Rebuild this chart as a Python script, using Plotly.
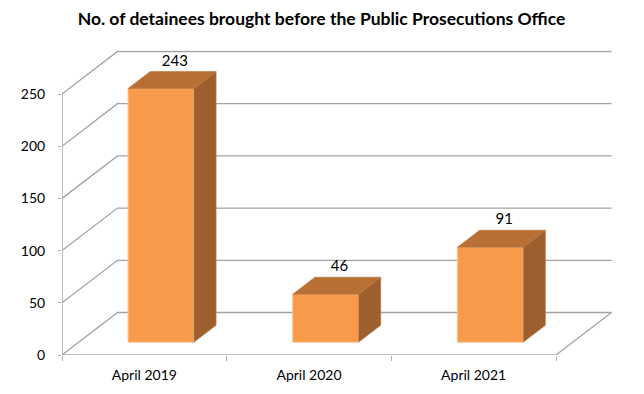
import plotly.graph_objects as go

categories = ["April 2019", "April 2020", "April 2021"]
values = [243, 46, 91]
y_ticks = [0, 50, 100, 150, 200, 250]
title = "No. of detainees brought before the Public Prosecutions Office"

FONT = "Lato"
X_MAX = 551 / 164.67
Y_MAX = 304.5 / 1.044
DX = 55.5 / 164.67   # depth projection in x units
DY = 42.5 / 1.044    # depth projection in y units
BAR_W = 0.4
D0, D1 = 0.30, 0.70
n = len(categories)
x_slots = list(range(n + 1))
centers = [i + 0.5 for i in range(n)]

# the page body has an 8px margin around the figure
PAGE = 8
W, H = 644 - PAGE, 394 - PAGE


def proj(x, y, d):
    return x + d * DX, y + d * DY


fig = go.Figure()

# walls and floor
grid_x, grid_y = [], []
for t in y_ticks:
    bx, by = proj(0, t, 1)
    ex, ey = proj(n, t, 1)
    grid_x += [0, bx, ex, None]
    grid_y += [t, by, ey, None]
fx, fy = proj(n, 0, 1)
fig.add_trace(go.Scatter(x=grid_x, y=grid_y, mode="lines", line=dict(color="#A3A3A3", width=1.3),
                         hoverinfo="skip", showlegend=False, cliponaxis=False))
fig.add_trace(go.Scatter(x=[0, 0, None, 0, n, fx], y=[0, y_ticks[-1], None, 0, 0, fy], mode="lines",
                         line=dict(color="#ABABAB", width=1.5), hoverinfo="skip", showlegend=False,
                         cliponaxis=False))

# front faces
bar_x = [c + D0 * DX for c in centers]
fig.add_trace(go.Bar(x=bar_x, y=values, base=[D0 * DY] * n, width=BAR_W,
                     marker=dict(color="#F99A4A", line=dict(color="#FBC597", width=1)),
                     xaxis="x2", yaxis="y2", hoverinfo="skip", showlegend=False))

# top and side faces
top_x, top_y, side_x, side_y, lab_x, lab_y = [], [], [], [], [], []
for c, v in zip(centers, values):
    l, r = c - BAR_W / 2, c + BAR_W / 2
    corners_top = [proj(l, v, D0), proj(r, v, D0), proj(r, v, D1), proj(l, v, D1), proj(l, v, D0)]
    corners_side = [proj(r, 0, D0), proj(r, 0, D1), proj(r, v, D1), proj(r, v, D0), proj(r, 0, D0)]
    for p in corners_top:
        top_x.append(p[0]); top_y.append(p[1])
    top_x.append(None); top_y.append(None)
    for p in corners_side:
        side_x.append(p[0]); side_y.append(p[1])
    side_x.append(None); side_y.append(None)
    lab_x.append(proj(c, v, 0.55)[0])
    lab_y.append(proj(c, v, D1)[1] + 2)

fig.add_trace(go.Scatter(x=side_x, y=side_y, mode="lines", fill="toself", fillcolor="#9C5F2D",
                         line=dict(color="#B98A60", width=0.6), xaxis="x2", yaxis="y2",
                         hoverinfo="skip", showlegend=False))
fig.add_trace(go.Scatter(x=top_x, y=top_y, mode="lines", fill="toself", fillcolor="#B97035",
                         line=dict(color="#B97035", width=0.6), xaxis="x2", yaxis="y2",
                         hoverinfo="skip", showlegend=False))
fig.add_trace(go.Scatter(x=lab_x, y=lab_y, mode="text", text=[str(v) for v in values],
                         textposition="top center", textfont=dict(family=FONT, size=15, color="#000000"),
                         xaxis="x2", yaxis="y2", hoverinfo="skip", showlegend=False, cliponaxis=False))

DOM_X = [(62 - PAGE) / W, (613 - PAGE) / W]
DOM_Y = [1 - (355 - PAGE) / H, 1 - (50.5 - PAGE) / H]
fig.update_layout(
    template="none",
    width=W, height=H, margin=dict(l=0, r=0, t=0, b=0, autoexpand=False),
    paper_bgcolor="#FFFFFF", plot_bgcolor="#FFFFFF",
    font=dict(family=FONT, size=14, color="#000000"),
    title=dict(text="<b>" + title + "</b>", x=(321.5 - PAGE) / W, xanchor="center",
               y=1 - (19 - PAGE) / H, yanchor="middle",
               font=dict(family=FONT, size=17.5, color="#000000")),
    xaxis=dict(domain=DOM_X, range=[0, X_MAX], tickmode="array", tickvals=centers, ticktext=categories,
               ticks="", showgrid=False, zeroline=False, showline=False, automargin=False,
               ticklabelstandoff=10, tickfont=dict(family=FONT, size=14)),
    yaxis=dict(domain=DOM_Y, range=[0, Y_MAX], tickmode="array", tickvals=y_ticks, ticks="outside",
               ticklen=3, tickcolor="#ABABAB", showgrid=False, zeroline=False, showline=False, automargin=False,
               ticklabelstandoff=10, tickfont=dict(family=FONT, size=14)),
    xaxis2=dict(domain=DOM_X, range=[0, X_MAX], overlaying="x", anchor="y2", tickmode="array",
                tickvals=x_slots, ticktext=[""] * len(x_slots), ticks="outside", ticklen=5, automargin=False,
                tickcolor="#ABABAB", showgrid=False, zeroline=False, showline=False),
    yaxis2=dict(domain=DOM_Y, range=[0, Y_MAX], overlaying="y", anchor="x2", showticklabels=False,
                ticks="", showgrid=False, zeroline=False, showline=False, automargin=False),
    barmode="overlay",
)
fig.write_html("out.html")
